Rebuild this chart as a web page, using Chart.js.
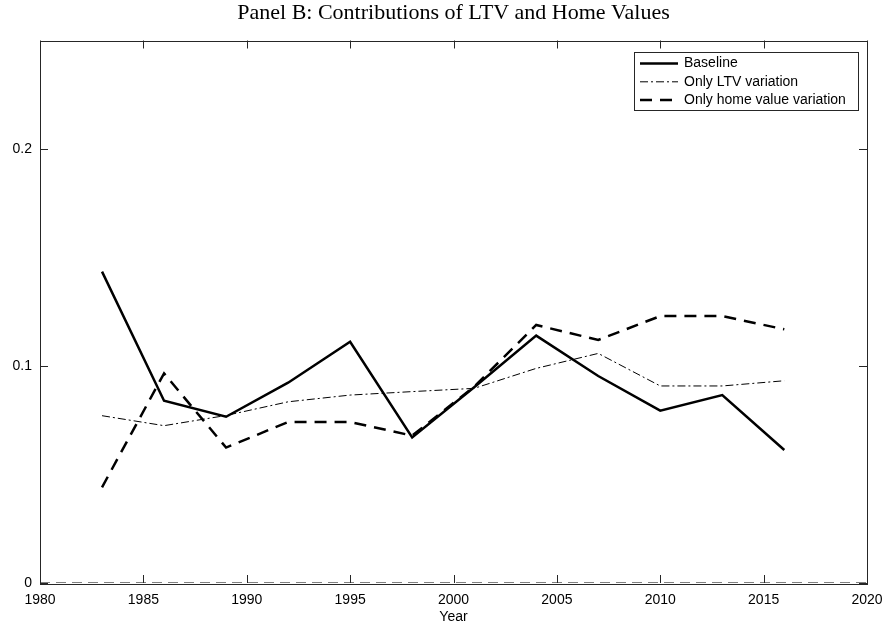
<!DOCTYPE html>
<html>
<head>
<meta charset="utf-8">
<script src="https://cdn.jsdelivr.net/npm/chart.js@4.4.1/dist/chart.umd.min.js"></script>
<style>
  html, body { margin: 0; padding: 0; background: #fff; }
  #wrap { width: 887px; height: 632px; position: relative; }
</style>
</head>
<body>
<div id="wrap"><canvas id="graph"></canvas></div>
<script>
// données
const years = [1983, 1986, 1989, 1992, 1995, 1998, 2001, 2004, 2007, 2010, 2013, 2016];
const baseline = [0.1435, 0.0840, 0.0766, 0.0923, 0.1112, 0.0671, 0.0902, 0.1140, 0.0954, 0.0794, 0.0866, 0.0613];
const onlyLtv = [0.0771, 0.0725, 0.0772, 0.0835, 0.0866, 0.0882, 0.0897, 0.0989, 0.1058, 0.0908, 0.0908, 0.0932];
const onlyHome = [0.0441, 0.0966, 0.0624, 0.0742, 0.0742, 0.0679, 0.0905, 0.1189, 0.1120, 0.1230, 0.1230, 0.1169];
const zeroYears = [1980, 2020];
const zeroValues = [0, 0];
const xTicks = [1980, 1985, 1990, 1995, 2000, 2005, 2010, 2015, 2020];
const yTicks = [0, 0.1, 0.2];

const toPoints = (xs, ys) => xs.map((x, i) => ({ x, y: ys[i] }));

const axisColor = '#262626';
const sans = "'Liberation Sans', Arial, sans-serif";

// cadre, graduations intérieures, titre et légende façon MATLAB
const boxPlugin = {
  id: 'boxPlugin',
  afterDraw(chart) {
    const { ctx, chartArea: a, scales } = chart;
    ctx.save();
    ctx.strokeStyle = axisColor;
    ctx.lineWidth = 1;
    ctx.setLineDash([]);
    ctx.strokeRect(Math.round(a.left) + 0.5, Math.round(a.top) + 0.5, Math.round(a.right - a.left), Math.round(a.bottom - a.top));
    const tl = 8;
    ctx.beginPath();
    xTicks.forEach(v => {
      const x = Math.round(scales.x.getPixelForValue(v)) + 0.5;
      ctx.moveTo(x, a.bottom); ctx.lineTo(x, a.bottom - tl);
      ctx.moveTo(x, a.top); ctx.lineTo(x, a.top + tl);
    });
    yTicks.forEach(v => {
      const y = Math.round(scales.y.getPixelForValue(v)) + 0.5;
      ctx.moveTo(a.left, y); ctx.lineTo(a.left + tl, y);
      ctx.moveTo(a.right, y); ctx.lineTo(a.right - tl, y);
    });
    ctx.stroke();

    // titre
    ctx.fillStyle = '#000';
    ctx.font = "22px 'Liberation Serif', 'DejaVu Serif', serif";
    ctx.textAlign = 'center';
    ctx.textBaseline = 'middle';
    ctx.fillText('Panel B: Contributions of LTV and Home Values', (a.left + a.right) / 2, 13);

    // légende
    const lx = 634, ly = 52, lw = 224, lh = 58;
    ctx.fillStyle = '#fff';
    ctx.fillRect(lx, ly, lw, lh);
    ctx.strokeStyle = axisColor;
    ctx.lineWidth = 1;
    ctx.strokeRect(lx + 0.5, ly + 0.5, lw, lh);
    ctx.font = '14px ' + sans;
    ctx.textAlign = 'left';
    chart.data.datasets.slice(0, 3).forEach((ds, i) => {
      const y = ly + 11.5 + i * 18.3;
      ctx.strokeStyle = '#000';
      ctx.lineWidth = ds.borderWidth;
      ctx.setLineDash(ds.borderDash || []);
      ctx.beginPath();
      ctx.moveTo(lx + 6, y);
      ctx.lineTo(lx + 44, y);
      ctx.stroke();
      ctx.fillStyle = '#000';
      ctx.fillText(ds.label, lx + 50, y);
    });
    ctx.restore();
  }
};

new Chart(document.getElementById('graph'), {
  type: 'line',
  data: {
    datasets: [{
      label: 'Baseline',
      data: toPoints(years, baseline),
      borderColor: '#000',
      borderWidth: 2.5,
      borderDash: []
    }, {
      label: 'Only LTV variation',
      data: toPoints(years, onlyLtv),
      borderColor: '#000',
      borderWidth: 1,
      borderDash: [8, 3, 2, 3]
    }, {
      label: 'Only home value variation',
      data: toPoints(years, onlyHome),
      borderColor: '#000',
      borderWidth: 2.5,
      borderDash: [12, 8]
    }, {
      label: 'zero',
      data: toPoints(zeroYears, zeroValues),
      borderColor: '#000',
      borderWidth: 1,
      borderDash: [10, 6]
    }]
  },
  options: {
    responsive: true,
    maintainAspectRatio: false,
    animation: false,
    devicePixelRatio: 1,
    elements: { point: { radius: 0 }, line: { tension: 0, fill: false } },
    layout: { padding: { left: 0, right: 20, top: 40.5, bottom: 0 } },
    plugins: {
      legend: { display: false },
      tooltip: { enabled: false }
    },
    scales: {
      x: {
        type: 'linear',
        min: 1980,
        max: 2020,
        afterFit(s) { s.height = 49; },
        afterBuildTicks(s) { s.ticks = xTicks.map(v => ({ value: v })); },
        grid: { display: false },
        border: { display: false },
        ticks: { color: '#000', font: { family: sans, size: 14 }, padding: 1, maxRotation: 0, callback: v => String(v) },
        title: { display: true, text: 'Year', color: '#000', font: { family: sans, size: 14 }, padding: { top: 0, bottom: 6 } }
      },
      y: {
        min: 0,
        max: 0.25,
        afterFit(s) { s.width = 40; },
        afterBuildTicks(s) { s.ticks = yTicks.map(v => ({ value: v })); },
        grid: { display: false },
        border: { display: false },
        ticks: { color: '#000', font: { family: sans, size: 14 }, padding: 0, callback: v => String(v) }
      }
    }
  },
  plugins: [boxPlugin]
});
</script>
</body>
</html>
